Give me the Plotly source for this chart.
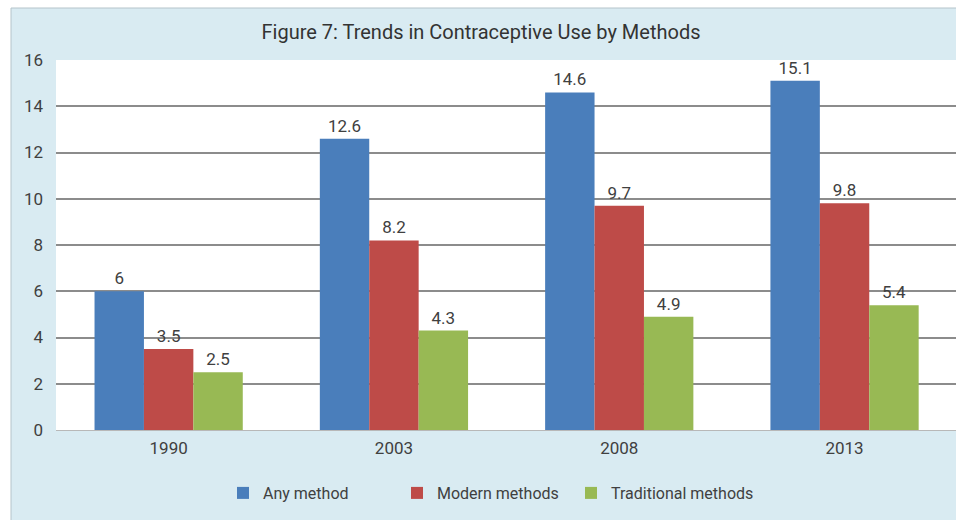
import plotly.graph_objects as go

years = ["1990", "2003", "2008", "2013"]
any_method = [6, 12.6, 14.6, 15.1]
modern = [3.5, 8.2, 9.7, 9.8]
traditional = [2.5, 4.3, 4.9, 5.4]
any_labels = ["6", "12.6", "14.6", "15.1"]
modern_labels = ["3.5", "8.2", "9.7", "9.8"]
trad_labels = ["2.5", "4.3", "4.9", "5.4"]
y_ticks = [0, 2, 4, 6, 8, 10, 12, 14, 16]

W, H = 956, 520
L, R, T, B = 56, 0, 60, 90
pw = W - L - R
ph = H - T - B

def px(x):
    return (x - L) / pw

def py(y):
    return (H - B - y) / ph

FAM = "Roboto, Arial, sans-serif"
font_txt = dict(family=FAM, size=17, color="#404040")

series = [
    ("Any method", any_method, any_labels, "#4a7ebb", "legend", 242),
    ("Modern methods", modern, modern_labels, "#be4b48", "legend2", 416),
    ("Traditional methods", traditional, trad_labels, "#98b954", "legend3", 590),
]

fig = go.Figure()
for name, vals, labs, col, leg, _ in series:
    fig.add_trace(go.Bar(
        x=years, y=vals, name=name, marker=dict(color=col, line=dict(width=0)),
        text=labs, textposition="outside", textfont=font_txt, cliponaxis=False,
        legend=leg,
    ))

legend_common = dict(orientation="h", xanchor="left", y=py(493), yanchor="middle",
                     font=dict(family=FAM, size=16, color="#404040"),
                     bgcolor="rgba(0,0,0,0)", itemwidth=30)
legends = {}
for name, vals, labs, col, leg, sx in series:
    legends[leg] = dict(legend_common, x=px(sx - 19))

bg = "#d9ebf2"
fig.update_layout(
    width=W, height=H,
    margin=dict(l=L, r=R, t=T, b=B, pad=0),
    paper_bgcolor=bg, plot_bgcolor="white",
    barmode="group", bargap=0.342, bargroupgap=0,
    title=dict(text="Figure 7: Trends in Contraceptive Use by Methods",
               x=px(481), xref="paper", xanchor="center",
               y=1 - 32 / H, yanchor="middle",
               font=dict(family=FAM, size=20, color="#333333")),
    xaxis=dict(range=[-0.5, -0.5 + pw / 225.3], showgrid=False, showline=False,
               ticks="", tickfont=font_txt, ticklabelstandoff=6, fixedrange=True),
    yaxis=dict(range=[0, 16], tickvals=y_ticks, showgrid=True, gridcolor="#8c8c8c",
               gridwidth=1.8, zeroline=True, zerolinecolor="#b8b8b8", zerolinewidth=1,
               showline=False, ticks="", ticklabelstandoff=12, tickfont=font_txt),
    showlegend=True,
    **legends,
    shapes=[
        dict(type="rect", xref="paper", yref="paper", x0=px(0), x1=px(W), y0=py(8), y1=py(0),
             fillcolor="white", line=dict(width=0), layer="below"),
        dict(type="rect", xref="paper", yref="paper", x0=px(0), x1=px(11), y0=py(H), y1=py(0),
             fillcolor="white", line=dict(width=0), layer="below"),
        dict(type="line", xref="paper", yref="paper", x0=px(11), x1=px(W), y0=py(8), y1=py(8),
             line=dict(color="#b5c4ca", width=1)),
        dict(type="line", xref="paper", yref="paper", x0=px(11), x1=px(11), y0=py(8), y1=py(H),
             line=dict(color="#b5c4ca", width=1)),
    ],
)

fig.write_html("out.html")
